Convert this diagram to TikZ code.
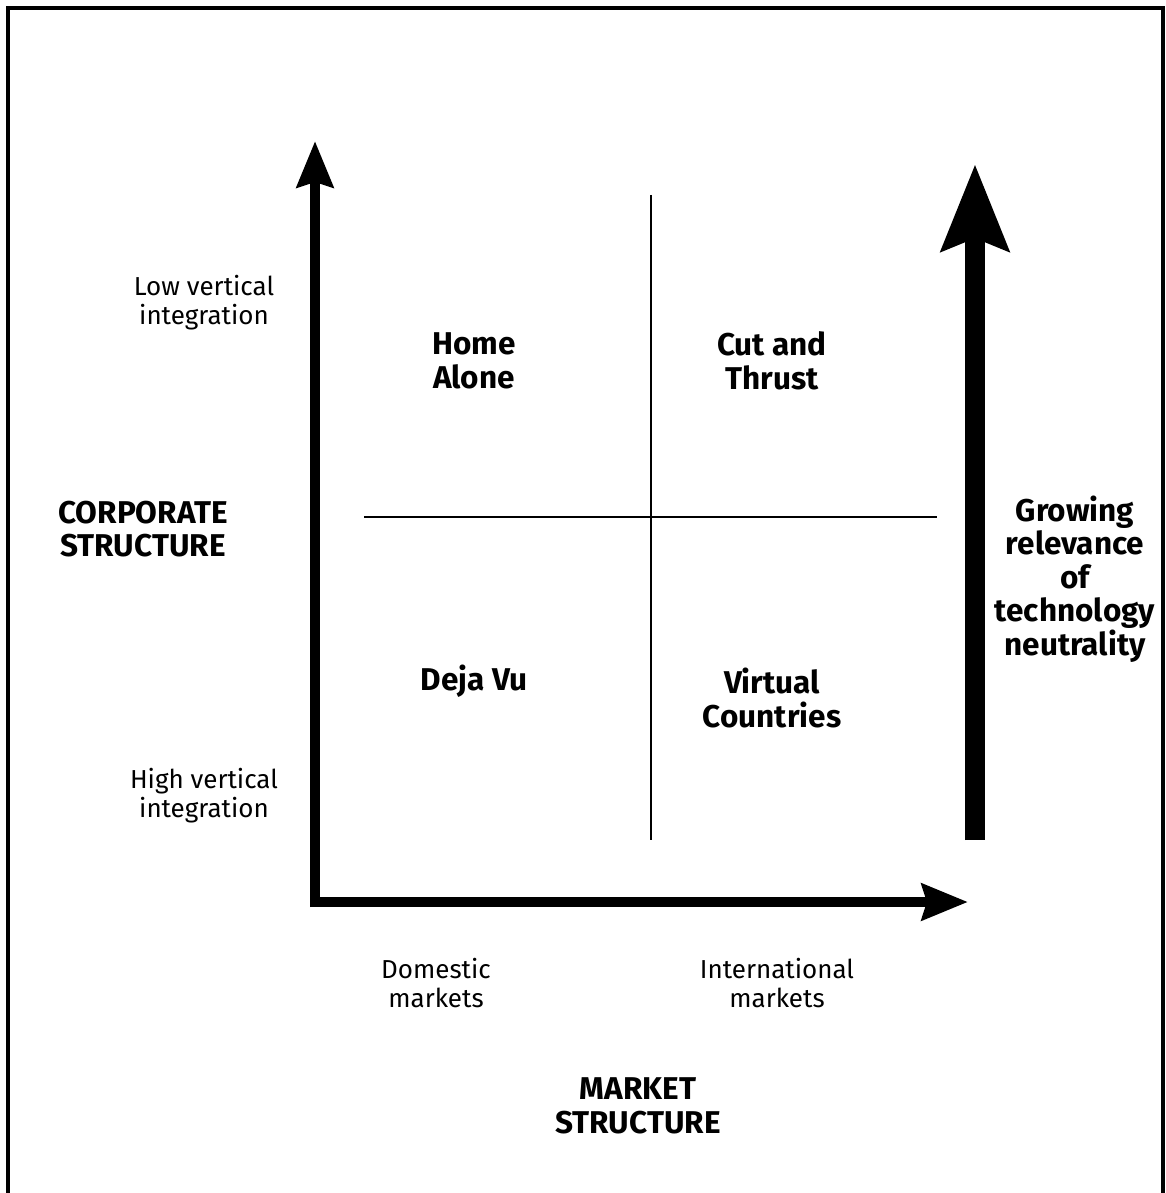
\documentclass[tikz,border=0pt]{standalone}
\usepackage{fontspec}
\setmainfont{Fira Sans}
\usetikzlibrary{arrows.meta}
\begin{document}
\begin{tikzpicture}[x=1pt,y=-1pt,
  axis/.style={line width=10pt,-{Stealth[length=46pt,width=36pt,inset=5pt]}},
  bigarrow/.style={line width=20pt,-{Stealth[length=86pt,width=66pt,inset=12pt]}},
  divider/.style={line width=2.5pt},
  quad/.style={align=center,font=\bfseries\fontsize{31.5}{33.5}\selectfont},
  heading/.style={align=center,font=\bfseries\fontsize{31.5}{33.5}\selectfont},
  note/.style={align=center,font=\fontsize{26}{29}\selectfont}]
\useasboundingbox (0,0) rectangle (1166,1193);
% frame
\draw[line width=3.5pt] (8,1205) -- (8,8) -- (1163,8) -- (1163,1205);
% axes
\coordinate (origin) at (315,902);
\coordinate (ytip) at (315,141);
\coordinate (xtip) at (968,902);
\draw[axis] (315,907) -- (ytip);
\draw[axis] (310,902) -- (xtip);
% quadrant dividers
\coordinate (vtop) at (651,195);
\coordinate (vbot) at (651,840);
\coordinate (hleft) at (364,517);
\coordinate (hright) at (937,517);
\draw[divider] (vtop) -- (vbot);
\draw[divider] (hleft) -- (hright);
% trend arrow
\coordinate (tbot) at (975,840);
\coordinate (ttop) at (975,164);
\draw[bigarrow] (tbot) -- (ttop);
% quadrant names
\node[quad] (home) at (474,361) {Home\\Alone};
\node[quad] (cut) at (772,361) {Cut and\\Thrust};
\node[quad] (deja) at (474,681) {Deja Vu};
\node[quad] (virtual) at (772,698) {Virtual\\Countries};
% axis titles
\node[heading] (corp) at (143,529) {CORPORATE\\STRUCTURE};
\node[heading] (market) at (638,1106) {MARKET\\STRUCTURE};
\node[heading] (grow) at (1075,579) {Growing\\relevance\\of\\technology\\neutrality};
% axis end labels
\node[note] (low) at (204,303) {Low vertical\\integration};
\node[note] (high) at (204,796) {High vertical\\integration};
\node[note] (dom) at (436,983) {Domestic\\markets};
\node[note] (intl) at (777,983) {International\\markets};
\end{tikzpicture}
\end{document}
